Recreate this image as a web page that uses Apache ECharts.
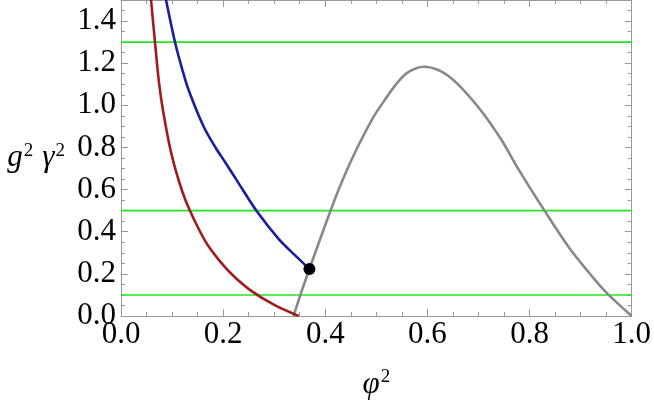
<!DOCTYPE html>
<html>
<head>
<meta charset="utf-8">
<script src="https://cdn.jsdelivr.net/npm/echarts@6/dist/echarts.min.js"></script>
<style>
  html, body { margin: 0; padding: 0; background: #fff; }
  #chart { width: 654px; height: 405px; }
</style>
</head>
<body>
<div id="chart"></div>
<script>
// points, [phi^2, g^2 gamma^2]
const redCurve = [
  [0.0588, 1.5], [0.0667, 1.297], [0.0746, 1.104], [0.083, 0.965], [0.0985, 0.772],
  [0.119, 0.598], [0.1355, 0.497], [0.165, 0.355], [0.188, 0.277], [0.217, 0.198],
  [0.253, 0.123], [0.302, 0.050], [0.348, 0.0]
];
const blueCurve = [
  [0.0882, 1.5], [0.106, 1.297], [0.120, 1.17], [0.132, 1.075], [0.162, 0.898],
  [0.185, 0.80], [0.204, 0.730], [0.233, 0.620], [0.266, 0.497], [0.309, 0.365],
  [0.340, 0.290], [0.369, 0.223]
];
const grayCurve = [
  [0.338, 0.0], [0.351, 0.098], [0.369, 0.223], [0.410, 0.498], [0.433, 0.640],
  [0.458, 0.775], [0.492, 0.935], [0.515, 1.020], [0.537, 1.095], [0.561, 1.155],
  [0.593, 1.183], [0.626, 1.162], [0.658, 1.104], [0.704, 0.978], [0.744, 0.840],
  [0.780, 0.690], [0.830, 0.498], [0.881, 0.313], [0.934, 0.155], [0.956, 0.098],
  [1.0, 0.0]
];
const levels = [1.3, 0.5, 0.1];
const endPoint = [[0.369, 0.223]];

const chart = echarts.init(document.getElementById('chart'));

const frameColor = '#999999';
const labelFont = 'Liberation Serif';

function frameAxis(extra) {
  return Object.assign({
    type: 'value',
    axisLine: { show: true, onZero: false, lineStyle: { color: frameColor, width: 1 } },
    axisTick: { show: true, inside: true, length: 7, lineStyle: { color: frameColor } },
    minorTick: { show: true, splitNumber: 4, length: 4, lineStyle: { color: frameColor } },
    splitLine: { show: false },
    minorSplitLine: { show: false }
  }, extra);
}

const labelStyle = {
  fontFamily: labelFont,
  fontSize: 31,
  color: '#000',
  formatter: v => v.toFixed(1)
};

const nameRich = {
  i: { fontFamily: labelFont, fontStyle: 'italic', fontSize: 31, color: '#000' },
  g: { fontFamily: labelFont, fontStyle: 'italic', fontSize: 31, color: '#000', padding: [0, 0, 0, 9] },
  s: { fontFamily: labelFont, fontSize: 19, color: '#000', padding: [0, 0, 14, 1] }
};

const levelSeries = levels.map(v => ({
  type: 'line',
  data: [[0, v], [1, v]],
  symbol: 'none',
  silent: true,
  lineStyle: { color: '#22e622', width: 1.6 }
}));

const curve = (data, color) => ({
  type: 'line', data, symbol: 'none',
  smooth: 0.3,
  lineStyle: { color, width: 2.6 }
});

chart.setOption({
  animation: false,
  grid: { left: 121, right: 22, top: 0, bottom: 89 },
  xAxis: [
    frameAxis({
      min: 0, max: 1, interval: 0.2, position: 'bottom',
      axisLabel: Object.assign({ margin: 3, showMaxLabel: true }, labelStyle),
      name: '{i|φ}{s|2}',
      nameLocation: 'middle',
      nameGap: 52,
      nameTextStyle: { rich: nameRich }
    }),
    frameAxis({ min: 0, max: 1, interval: 0.2, position: 'top', axisLabel: { show: false } })
  ],
  yAxis: [
    frameAxis({
      min: 0, max: 1.5, interval: 0.2, position: 'left',
      axisLabel: Object.assign({ margin: 5, showMaxLabel: false }, labelStyle),
      name: '{i|g}{s|2}{g|γ}{s|2}',
      nameLocation: 'middle',
      nameRotate: 0,
      nameGap: 56,
      nameTextStyle: { align: 'right', rich: nameRich }
    }),
    frameAxis({ min: 0, max: 1.5, interval: 0.2, position: 'right', axisLabel: { show: false } })
  ],
  series: [
    ...levelSeries,
    curve(grayCurve, '#888888'),
    curve(redCurve, '#a01c1c'),
    curve(blueCurve, '#1c1ca0'),
    {
      type: 'scatter', data: endPoint, symbolSize: 12,
      itemStyle: { color: '#000', opacity: 1 }, z: 5
    }
  ]
});
</script>
</body>
</html>
